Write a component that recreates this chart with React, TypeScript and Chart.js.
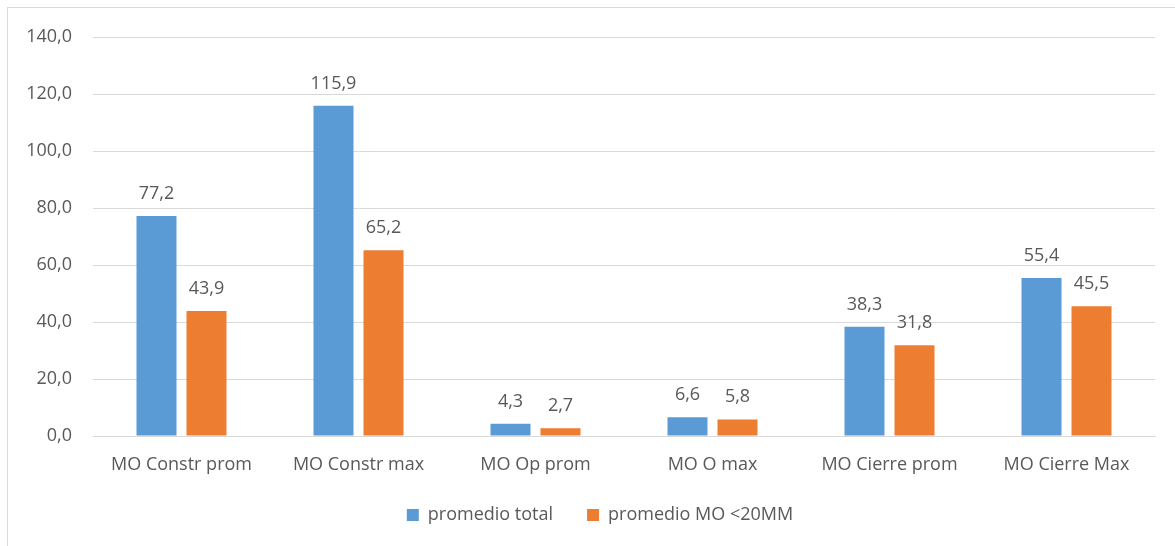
import React, { useEffect, useRef } from "react";
import { Chart, registerables } from "chart.js";

Chart.register(...registerables);

const categories = ["MO Constr prom", "MO Constr max", "MO Op prom", "MO O max", "MO Cierre prom", "MO Cierre Max"];
const promedioTotal = [77.2, 115.9, 4.3, 6.6, 38.3, 55.4];
const promedioMO20 = [43.9, 65.2, 2.7, 5.8, 31.8, 45.5];
const seriesNames = ["promedio total", "promedio MO <20MM"];
const yTicks = [0, 20, 40, 60, 80, 100, 120, 140];

const FONT = "'Open Sans', sans-serif";
const TEXT = "#595959";

const fmt = (v: number, d: number) => v.toFixed(d).replace(".", ",");

const valueLabels = {
  id: "valueLabels",
  afterDatasetsDraw(chart: any) {
    const ctx = chart.ctx;
    ctx.save();
    ctx.font = `18px ${FONT}`;
    ctx.fillStyle = TEXT;
    ctx.textAlign = "center";
    ctx.textBaseline = "alphabetic";
    chart.data.datasets.forEach((ds: any, i: number) => {
      const meta = chart.getDatasetMeta(i);
      meta.data.forEach((bar: any, j: number) => {
        ctx.fillText(fmt(ds.data[j], 1), bar.x, bar.y - 17);
      });
    });
    ctx.restore();
  },
};

const layoutTweak = {
  id: "layoutTweak",
  afterLayout(chart: any) {
    if (chart.legend) chart.legend.left = 37;
    if (chart.scales.x) chart.scales.x.bottom += 14;
  },
};

export default function App() {
  const ref = useRef<HTMLCanvasElement>(null);
  useEffect(() => {
    if (!ref.current) return;
    const chart = new Chart(ref.current, {
      type: "bar",
      data: {
        labels: categories,
        datasets: [
          { label: seriesNames[0], data: promedioTotal, backgroundColor: "#5B9BD5", categoryPercentage: 0.565, barPercentage: 0.8 },
          { label: seriesNames[1], data: promedioMO20, backgroundColor: "#ED7D31", categoryPercentage: 0.565, barPercentage: 0.8 },
        ],
      },
      options: {
        animation: false,
        responsive: false,
        devicePixelRatio: 1,
        layout: { padding: { top: 29, right: 20, bottom: 0, left: 0 } },
        plugins: {
          tooltip: { enabled: false },
          legend: {
            position: "bottom",
            labels: {
              boxWidth: 12,
              boxHeight: 12,
              padding: 34,
              color: TEXT,
              font: { family: FONT, size: 18 },
            },
          },
        },
        scales: {
          x: {
            grid: { display: false, drawTicks: false },
            border: { display: true, color: "#d9d9d9", width: 1 },
            ticks: { color: TEXT, font: { family: FONT, size: 18 }, padding: 18, maxRotation: 0 },
            afterFit: (s: any) => { s.height = 36; s.paddingLeft = 0; s.paddingRight = 0; },
          },
          y: {
            min: 0,
            max: 140,
            afterBuildTicks: (s: any) => { s.ticks = yTicks.map((v) => ({ value: v })); },
            grid: { color: "#d9d9d9", lineWidth: 1, drawTicks: false },
            border: { display: false },
            ticks: { color: TEXT, font: { family: FONT, size: 18 }, padding: 21, callback: (v: any) => fmt(Number(v), 1) },
            afterFit: (s: any) => { s.width = 85; s.paddingTop = 0; s.paddingBottom = 0; },
          },
        },
      },
      plugins: [valueLabels, layoutTweak],
    });
    return () => chart.destroy();
  }, []);
  return (
    <div style={{ position: "absolute", left: 7, top: 7, width: 1200, height: 600, border: "1px solid #d9d9d9", boxSizing: "border-box", background: "#fff" }}>
      <canvas ref={ref} width={1167} height={526} style={{ display: "block", width: 1167, height: 526 }} />
    </div>
  );
}
